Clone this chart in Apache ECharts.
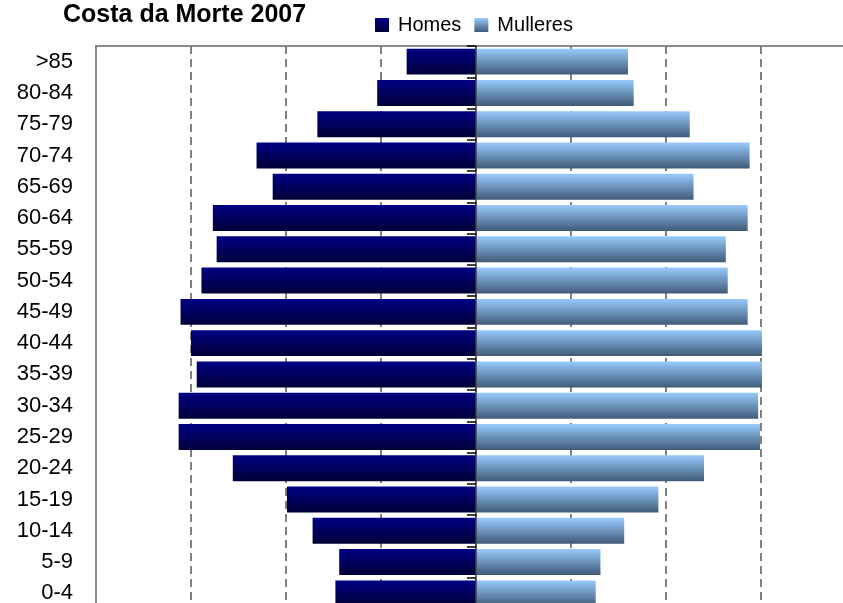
<!DOCTYPE html>
<html>
<head>
<meta charset="utf-8">
<script src="https://cdn.jsdelivr.net/npm/echarts@6/dist/echarts.min.js"></script>
<style>
  html, body { margin: 0; padding: 0; background: #fff; }
  #chart { width: 843px; height: 603px; }
</style>
</head>
<body>
<div id="chart"></div>
<script>
// age groups, bottom to top
const ages = ['0-4', '5-9', '10-14', '15-19', '20-24', '25-29', '30-34', '35-39', '40-44',
  '45-49', '50-54', '55-59', '60-64', '65-69', '70-74', '75-79', '80-84', '>85'];
const homes = [1480, 1440, 1720, 1990, 2560, 3130, 3130, 2940, 3000,
  3110, 2890, 2730, 2770, 2140, 2310, 1670, 1040, 730];
const mulleres = [1260, 1310, 1560, 1920, 2400, 2990, 2970, 3010, 3010,
  2860, 2650, 2630, 2860, 2290, 2880, 2250, 1660, 1600];

const font = "'Liberation Sans', Arial, sans-serif";
const chart = echarts.init(document.getElementById('chart'));

const homesColor = new echarts.graphic.LinearGradient(0, 0, 0, 1, [
  { offset: 0, color: '#000084' },
  { offset: 1, color: '#000038' }
]);
const mulleresColor = new echarts.graphic.LinearGradient(0, 0, 0, 1, [
  { offset: 0, color: '#97cbfd' },
  { offset: 1, color: '#405a78' }
]);

chart.setOption({
  animation: false,
  title: {
    text: 'Costa da Morte 2007',
    left: 63,
    top: 3,
    padding: 0,
    textStyle: { fontFamily: font, fontSize: 25, fontWeight: 'bold', color: '#000' }
  },
  legend: {
    left: 375,
    top: 15,
    padding: 0,
    itemWidth: 14,
    itemHeight: 14,
    itemGap: 13,
    icon: 'rect',
    textStyle: { fontFamily: font, fontSize: 20, color: '#000', padding: [0, 0, 0, 4] },
    data: ['Homes', 'Mulleres']
  },
  grid: {
    left: 96,
    top: 46,
    width: 760,
    height: 563,
    outerBoundsMode: 'none',
    show: true,
    borderColor: '#8a8a8a',
    borderWidth: 2,
    backgroundColor: 'transparent'
  },
  xAxis: {
    type: 'value',
    min: -4000,
    max: 4000,
    interval: 1000,
    axisLabel: { show: false },
    axisTick: { show: false },
    axisLine: { show: false },
    splitLine: {
      show: true,
      showMinLine: false,
      showMaxLine: false,
      lineStyle: { color: '#808080', width: 2, type: [8, 5] }
    }
  },
  yAxis: [
    {
      type: 'category',
      data: ages,
      position: 'left',
      axisLine: { show: false, onZero: false },
      axisTick: { show: false },
      axisLabel: { margin: 23, fontFamily: font, fontSize: 22, color: '#000' }
    },
    {
      type: 'category',
      data: ages,
      position: 'left',
      z: 5,
      axisLine: { show: true, onZero: true, lineStyle: { color: '#404040', width: 1.5 } },
      axisTick: { show: true, length: 9, lineStyle: { color: '#000', width: 1.5 } },
      axisLabel: { show: false },
      splitLine: { show: false }
    }
  ],
  series: [
    {
      name: 'Homes',
      type: 'bar',
      yAxisIndex: 0,
      barGap: '-100%',
      barCategoryGap: '17%',
      itemStyle: { color: homesColor },
      data: homes.map(v => -v)
    },
    {
      name: 'Mulleres',
      type: 'bar',
      yAxisIndex: 0,
      barGap: '-100%',
      barCategoryGap: '17%',
      itemStyle: { color: mulleresColor },
      data: mulleres
    }
  ]
});
</script>
</body>
</html>
